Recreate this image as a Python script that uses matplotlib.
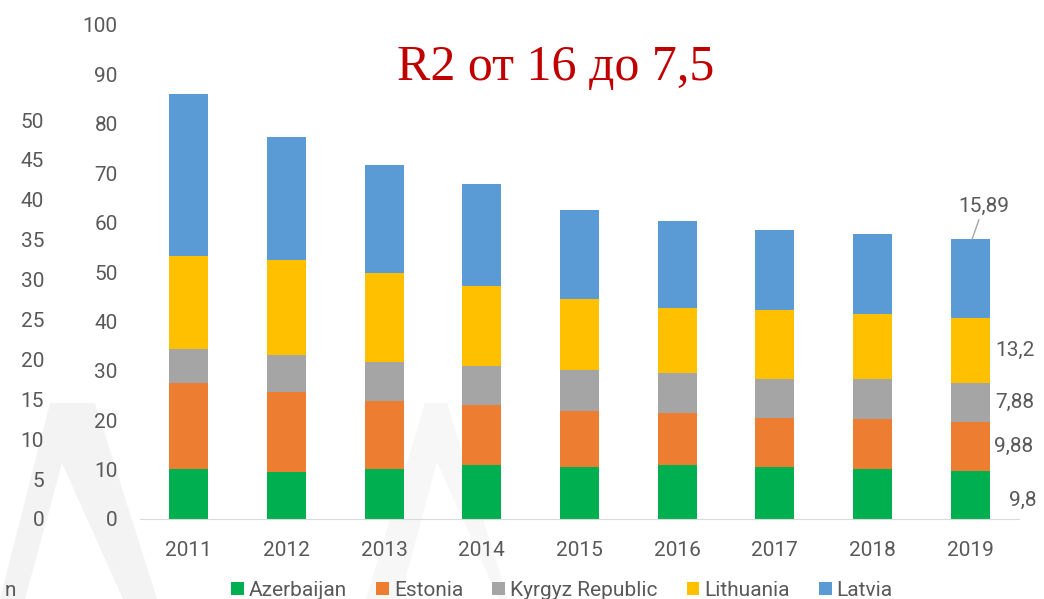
import matplotlib
matplotlib.use('Agg')
import matplotlib.pyplot as plt
from matplotlib.patches import Polygon, Patch
import numpy as np

years = ['2011', '2012', '2013', '2014', '2015', '2016', '2017', '2018', '2019']
azerbaijan = [10.1, 9.5, 10.1, 10.9, 10.5, 10.9, 10.5, 10.1, 9.8]
estonia = [17.4, 16.2, 13.8, 12.2, 11.4, 10.5, 10.0, 10.1, 9.88]
kyrgyz = [6.9, 7.5, 7.9, 7.9, 8.3, 8.2, 7.9, 8.1, 7.88]
lithuania = [18.8, 19.2, 17.9, 16.2, 14.4, 13.2, 14.0, 13.2, 13.2]
latvia = [32.8, 24.9, 22.0, 20.6, 17.9, 17.5, 16.1, 16.2, 15.89]

names = ['Azerbaijan', 'Estonia', 'Kyrgyz Republic', 'Lithuania', 'Latvia']
colors = ['#00b050', '#ed7d31', '#a5a5a5', '#ffc000', '#5b9bd5']
last_labels = ['9,8', '9,88', '7,88', '13,2', '15,89']

W, H = 1044, 599
txt = '#595959'
plt.rcParams['font.family'] = ['Roboto', 'DejaVu Sans']

fig = plt.figure(figsize=(W / 100, H / 100), dpi=100)


def px(x, y):
    return (x / W, 1 - y / H)


# faint watermark letters behind the chart
marks = [([(0, 599), (50, 403), (95, 403), (157, 599), (123, 599), (62, 463), (25, 599)], '#f3f3f3'),
         ([(366, 599), (425, 403), (447, 403), (508, 599), (499, 599), (437, 462), (400, 599)], '#f7f7f7')]
for pts, fc in marks:
    fig.patches.append(Polygon([px(*p) for p in pts], closed=True, transform=fig.transFigure,
                               facecolor=fc, edgecolor='none', zorder=-1))

ax = fig.add_axes([140 / W, (H - 519) / H, (1019 - 140) / W, (519 - 25) / H])
ax.set_facecolor('none')

x = np.arange(len(years))
series = [azerbaijan, estonia, kyrgyz, lithuania, latvia]
bottom = np.zeros(len(years))
for vals, c in zip(series, colors):
    ax.bar(x, vals, width=0.4, bottom=bottom, color=c, edgecolor='none', zorder=2)
    bottom = bottom + np.array(vals)

ax.set_xlim(-0.5, len(years) - 0.5)
ax.set_ylim(0, 100)
ax.set_yticks(np.arange(0, 101, 10))
ax.set_xticks(x)
ax.set_xticklabels(years)
for s in ['top', 'right', 'left']:
    ax.spines[s].set_visible(False)
ax.spines['bottom'].set_color('#d9d9d9')
ax.tick_params(axis='both', length=0, labelsize=15, labelcolor=txt)
ax.tick_params(axis='y', pad=16)
ax.tick_params(axis='x', pad=16)

# second scale on the far left
ax2 = ax.twinx()
ax2.set_ylim(0, 50 * 494 / 399)
ax2.set_yticks(np.arange(0, 51, 5))
ax2.yaxis.tick_left()
ax2.tick_params(axis='y', length=0, labelsize=15, labelcolor=txt, pad=69)
for s in ax2.spines.values():
    s.set_visible(False)

# value labels for 2019
cum = np.cumsum([s[-1] for s in series])
mids = cum - np.array([s[-1] for s in series]) / 2
offs = [(28, -4), (17, 0), (18, 0), (18, 0)]
for i in range(4):
    ax.annotate(last_labels[i], xy=(8, mids[i]), xytext=offs[i], textcoords='offset points',
                ha='left', va='center', fontsize=15, color=txt)
ax.annotate(last_labels[4], xy=(8.02, cum[4]), xytext=(-10, 17), textcoords='offset points',
            ha='left', va='bottom', fontsize=15, color=txt,
            arrowprops=dict(arrowstyle='-', color='#a6a6a6', lw=1, shrinkA=1, shrinkB=0))

fig.text(556 / W, 1 - 80 / H, 'R2 от 16 до 7,5', ha='center', va='baseline',
         fontsize=36, color='#c00000', family=['Liberation Serif', 'DejaVu Serif'])

fig.text(5 / W, 1 - 590 / H, 'n', ha='left', va='center', fontsize=15, color=txt)

handles = [Patch(facecolor=c, edgecolor='none') for c in colors]
fig.legend(handles, names, loc='center', bbox_to_anchor=(562 / W, 1 - 590 / H), ncol=5,
           frameon=False, fontsize=15, labelcolor=txt, handlelength=0.6, handleheight=0.6,
           handletextpad=0.25, columnspacing=1.4)

fig.savefig('out.png', dpi=100)
